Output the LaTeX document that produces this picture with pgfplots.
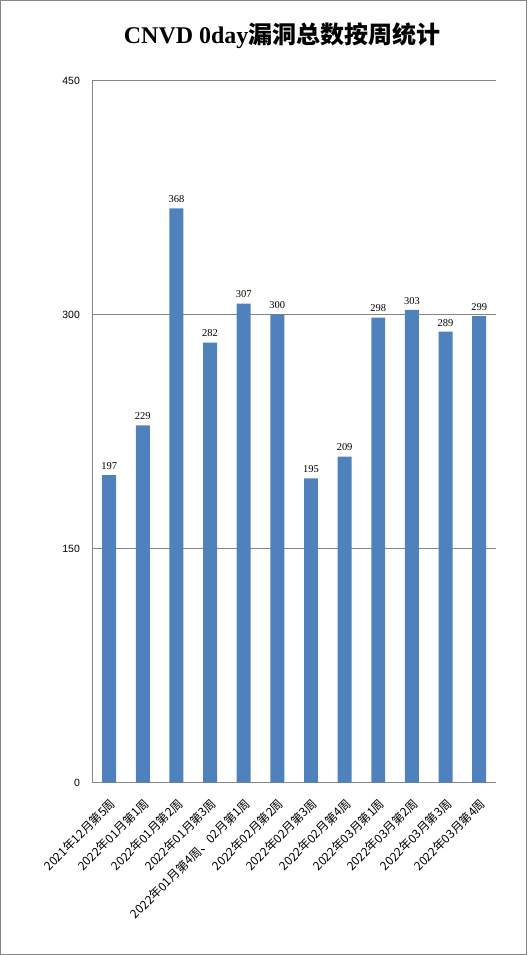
\documentclass[border=0pt]{standalone}
\usepackage{fontspec}
\setmainfont{Liberation Serif}
\newfontfamily\cjk{Noto Sans CJK SC}
\newfontfamily\sans{Liberation Sans}
\usepackage{pgfplots}
\pgfplotsset{compat=1.18}
\definecolor{barblue}{HTML}{4F81BD}
\definecolor{gridgray}{HTML}{868686}
\begin{document}
\begin{tikzpicture}
\begin{axis}[
    scale only axis,
    width=404pt, height=703pt,
    clip=false,
    ymin=0, ymax=450,
    xmin=-0.5, xmax=11.5,
    ytick={0,150,300,450},
    ymajorgrids,
    grid style={gridgray, line width=0.7pt},
    axis line style={gridgray, line width=0.7pt},
    axis x line*=bottom, axis y line*=left,
    tick style={draw=none},
    /pgf/number format/assume math mode=true,
    yticklabel style={font=\sans\fontsize{10.5}{12}\selectfont, xshift=-9pt},
    xtick=data,
    xticklabels={
        2021年12月第5周, 2022年01月第1周, 2022年01月第2周, 2022年01月第3周,
        {2022年01月第4周、02月第1周}, 2022年02月第2周, 2022年02月第3周,
        2022年02月第4周, 2022年03月第1周, 2022年03月第2周,
        2022年03月第3周, 2022年03月第4周},
    xticklabel style={font=\cjk\fontsize{12}{14}\selectfont, rotate=45, anchor=east, xshift=-7pt, yshift=-16pt},
]
\addplot[ybar, bar width=14pt, fill=barblue, draw=none,
    nodes near coords,
    nodes near coords style={font=\fontsize{10.5}{12}\selectfont, text=black, yshift=2pt}]
coordinates {
(0,197) (1,229) (2,368) (3,282) (4,307) (5,300)
(6,195) (7,209) (8,298) (9,303) (10,289) (11,299)
};
\node[font=\bfseries\fontsize{24}{28}\selectfont] at (rel axis cs:0.47,1.064)
    {CNVD 0day{\cjk\bfseries 漏洞总数按周统计}};
\draw[gridgray, line width=1pt] (rel axis cs:-0.2277,-0.2447) rectangle (rel axis cs:1.0767,1.1138);
\end{axis}
\end{tikzpicture}
\end{document}
